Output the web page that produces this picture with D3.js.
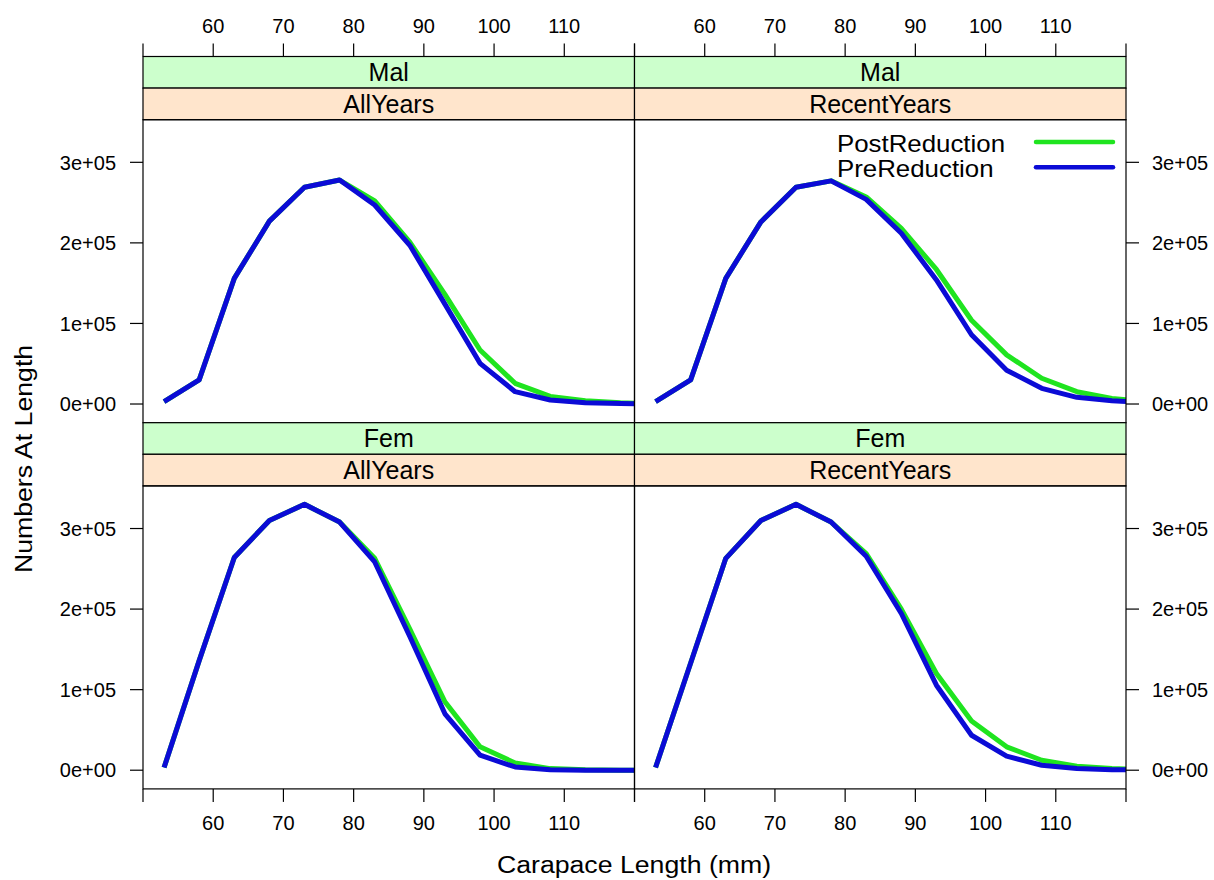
<!DOCTYPE html>
<html>
<head>
<meta charset="utf-8">
<script src="https://cdn.jsdelivr.net/npm/d3@7"></script>
<style>
  body { margin: 0; background: #fff; }
  svg text { font-family: "Liberation Sans", Arial, sans-serif; fill: #000; }
</style>
</head>
<body>
<div id="chart"></div>
<script>
// carapace length classes (mm)
var lengths = [53, 58, 63, 68, 73, 78, 83, 88, 93, 98, 103, 108, 113, 118, 123];

// numbers at length
var malAllPost    = [3000, 30000, 156000, 227000, 269000, 278000, 252000, 201000, 136000, 67000, 25700, 9500, 4000, 1500, 500];
var malAllPre     = [3000, 30000, 156000, 227000, 269000, 278000, 247000, 197000, 124000, 50500, 15300, 5000, 1600, 500, 100];
var malRecentPost = [3000, 30000, 156000, 226000, 269000, 277000, 257000, 218000, 167000, 104000, 61000, 32000, 15300, 7000, 3000];
var malRecentPre  = [3000, 30000, 156000, 226000, 269000, 277000, 254000, 212000, 154000, 86000, 42000, 19500, 8300, 4000, 1500];
var femAllPost    = [3300, 136000, 264000, 310000, 330000, 308000, 263000, 175000, 85000, 29000, 9000, 2000, 500, 100, 0];
var femAllPre     = [3300, 136000, 264000, 310000, 330000, 308000, 258500, 166000, 70000, 18600, 4000, 500, 100, 0, 0];
var femRecentPost = [3300, 133000, 263000, 310000, 330000, 308000, 269000, 200000, 120000, 61000, 29000, 12400, 5000, 2000, 800];
var femRecentPre  = [3300, 133000, 263000, 310000, 330000, 308000, 265500, 194500, 105500, 43400, 17400, 6200, 2000, 700, 200];

var seriesNames = ["PostReduction", "PreReduction"];
var seriesColors = ["#1fe41f", "#0b0bd6"];
var xTicks = [50, 60, 70, 80, 90, 100, 110, 120];
var xLabels = ["", "60", "70", "80", "90", "100", "110", ""];
var yTicks = [0, 100000, 200000, 300000];
var yLabels = ["0e+00", "1e+05", "2e+05", "3e+05"];

var panels = [
  {sex: "Mal", period: "AllYears",    row: 0, col: 0, post: malAllPost,    pre: malAllPre},
  {sex: "Mal", period: "RecentYears", row: 0, col: 1, post: malRecentPost, pre: malRecentPre},
  {sex: "Fem", period: "AllYears",    row: 1, col: 0, post: femAllPost,    pre: femAllPre},
  {sex: "Fem", period: "RecentYears", row: 1, col: 1, post: femRecentPost, pre: femRecentPre}
];

var width = 1214, height = 880;
var marginLeft = 143, panelW = 491.5;
var marginTop = 56.5, stripH = 31.6, panelH = 303;
var rowH = 2 * stripH + panelH;
var tickLen = 13;

var svg = d3.select("#chart").append("svg")
  .attr("width", width)
  .attr("height", height);

svg.append("rect").attr("width", width).attr("height", height).attr("fill", "#fff");

var x = d3.scaleLinear().domain([50, 120]).range([0, panelW]);
var y = d3.scaleLinear().domain([-23200, 352900]).range([panelH, 0]);

var line = d3.line()
  .x(function(d){ return x(d[0]); })
  .y(function(d){ return y(d[1]); });

panels.forEach(function(p, i) {
  var px = marginLeft + p.col * panelW;
  var py = marginTop + p.row * rowH;
  var g = svg.append("g").attr("transform", "translate(" + px + "," + py + ")");

  // strips
  var strips = [{label: p.sex, fill: "#ccffcc"}, {label: p.period, fill: "#ffe5cc"}];
  strips.forEach(function(s, k) {
    g.append("rect")
      .attr("x", 0).attr("y", k * stripH)
      .attr("width", panelW).attr("height", stripH)
      .attr("fill", s.fill).attr("stroke", "#000").attr("stroke-width", 1.2);
    g.append("text")
      .attr("x", panelW / 2).attr("y", k * stripH + stripH / 2)
      .attr("dy", "0.36em")
      .attr("text-anchor", "middle")
      .style("font-size", "25px")
      .text(s.label);
  });

  var pg = g.append("g").attr("transform", "translate(0," + 2 * stripH + ")");

  pg.append("clipPath").attr("id", "clip" + i)
    .append("rect").attr("width", panelW).attr("height", panelH);

  var series = [p.post, p.pre];
  pg.append("g").attr("clip-path", "url(#clip" + i + ")")
    .selectAll("path")
    .data(series)
    .enter()
    .append("path")
      .attr("d", function(vals){ return line(lengths.map(function(l, j){ return [l, vals[j]]; })); })
      .attr("fill", "none")
      .attr("stroke", function(d, j){ return seriesColors[j]; })
      .attr("stroke-width", 5)
      .attr("stroke-linejoin", "round");

  pg.append("rect")
    .attr("width", panelW).attr("height", panelH)
    .attr("fill", "none").attr("stroke", "#000").attr("stroke-width", 1.2);

  // x axis: top for row 0, bottom for row 1
  if (p.row === 0) {
    var ax = g.append("g");
    xTicks.forEach(function(t, k) {
      ax.append("line").attr("x1", x(t)).attr("x2", x(t))
        .attr("y1", 0).attr("y2", -tickLen).attr("stroke", "#000").attr("stroke-width", 1.2);
      ax.append("text").attr("x", x(t)).attr("y", 33.3 - marginTop)
        .attr("text-anchor", "middle").style("font-size", "20px").text(xLabels[k]);
    });
  } else {
    var bx = pg.append("g").attr("transform", "translate(0," + panelH + ")");
    xTicks.forEach(function(t, k) {
      bx.append("line").attr("x1", x(t)).attr("x2", x(t))
        .attr("y1", 0).attr("y2", tickLen).attr("stroke", "#000").attr("stroke-width", 1.2);
      bx.append("text").attr("x", x(t)).attr("y", 41)
        .attr("text-anchor", "middle").style("font-size", "20px").text(xLabels[k]);
    });
  }

  // y axis: left for column 0, right for column 1
  yTicks.forEach(function(t, k) {
    if (p.col === 0) {
      pg.append("line").attr("x1", 0).attr("x2", -tickLen)
        .attr("y1", y(t)).attr("y2", y(t)).attr("stroke", "#000").attr("stroke-width", 1.2);
      pg.append("text").attr("x", -27).attr("y", y(t)).attr("dy", "0.36em")
        .attr("text-anchor", "end").style("font-size", "20px").text(yLabels[k]);
    } else {
      pg.append("line").attr("x1", panelW).attr("x2", panelW + tickLen)
        .attr("y1", y(t)).attr("y2", y(t)).attr("stroke", "#000").attr("stroke-width", 1.2);
      pg.append("text").attr("x", panelW + 26).attr("y", y(t)).attr("dy", "0.36em")
        .attr("text-anchor", "start").style("font-size", "20px").text(yLabels[k]);
    }
  });
});

// legend in the upper right panel
var legend = svg.append("g");
seriesNames.forEach(function(name, k) {
  var ly = 142 + k * 25.3;
  legend.append("text")
    .attr("transform", "translate(837," + (ly + 9.7) + ") scale(1.1,1)")
    .style("font-size", "23.5px")
    .text(name);
  legend.append("line")
    .attr("x1", 1036).attr("x2", 1113).attr("y1", ly).attr("y2", ly)
    .attr("stroke", seriesColors[k]).attr("stroke-width", 4.5).attr("stroke-linecap", "round");
});

// axis titles
svg.append("text")
  .attr("transform", "translate(634,873) scale(1.16,1)")
  .attr("text-anchor", "middle")
  .style("font-size", "23px")
  .text("Carapace Length (mm)");

svg.append("text")
  .attr("transform", "translate(31.5,459) rotate(-90) scale(1.16,1)")
  .attr("text-anchor", "middle")
  .style("font-size", "23px")
  .text("Numbers At Length");
</script>
</body>
</html>
